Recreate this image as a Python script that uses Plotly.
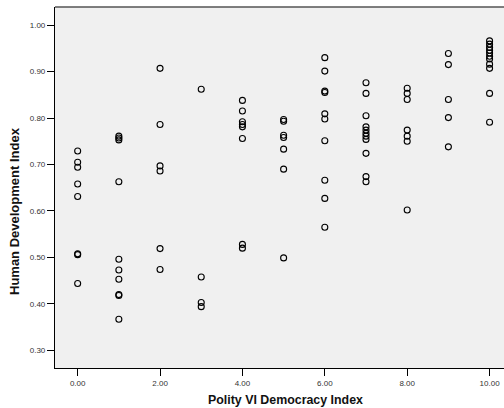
import plotly.graph_objects as go

polity_levels = [0, 1, 2, 3, 4, 5, 6, 7, 8, 9, 10]
hdi_by_level = [
    [0.729, 0.705, 0.694, 0.658, 0.631, 0.508, 0.506, 0.444],
    [0.761, 0.757, 0.753, 0.663, 0.496, 0.473, 0.453, 0.420, 0.418, 0.367],
    [0.907, 0.786, 0.697, 0.686, 0.519, 0.474],
    [0.862, 0.458, 0.403, 0.394],
    [0.838, 0.815, 0.792, 0.786, 0.781, 0.756, 0.528, 0.520],
    [0.797, 0.793, 0.763, 0.758, 0.733, 0.690, 0.499],
    [0.930, 0.901, 0.858, 0.855, 0.809, 0.798, 0.751, 0.666, 0.627, 0.565],
    [0.876, 0.853, 0.805, 0.781, 0.774, 0.767, 0.761, 0.754, 0.724, 0.674, 0.663],
    [0.864, 0.853, 0.840, 0.774, 0.761, 0.750, 0.602],
    [0.939, 0.915, 0.840, 0.801, 0.738],
    [0.966, 0.959, 0.952, 0.946, 0.940, 0.933, 0.927, 0.916, 0.907, 0.853, 0.791],
]
x_ticks = [0, 2, 4, 6, 8, 10]
y_ticks = [0.30, 0.40, 0.50, 0.60, 0.70, 0.80, 0.90, 1.00]

xs, ys = [], []
for lvl, vals in zip(polity_levels, hdi_by_level):
    for v in vals:
        xs.append(lvl)
        ys.append(v)

fig = go.Figure()
fig.add_trace(go.Scatter(
    x=xs, y=ys, mode="markers",
    marker=dict(symbol="circle-open", size=6, color="black", line=dict(width=1.1, color="black")),
    showlegend=False, hoverinfo="skip",
))

tickfont = dict(family="Liberation Sans, Arial, sans-serif", size=8, color="#333333")
fig.update_layout(
    width=504, height=408,
    margin=dict(l=55, r=0, t=7, b=40),
    paper_bgcolor="white",
    plot_bgcolor="#F0F0F0",
    xaxis=dict(
        range=[-0.55, 10.35], tickvals=x_ticks, ticktext=[f"{v:.2f}" for v in x_ticks],
        showgrid=False, zeroline=False, showline=True, linecolor="black", linewidth=1.2,
        ticks="outside", ticklen=7, tickcolor="black", tickwidth=1,
        tickfont=tickfont,
    ),
    yaxis=dict(
        range=[0.262, 1.039], tickvals=y_ticks, ticktext=[f"{v:.2f}" for v in y_ticks],
        showgrid=False, zeroline=False, showline=True, linecolor="black", linewidth=1.2,
        ticks="outside", ticklen=7, tickcolor="black", tickwidth=1,
        tickfont=tickfont,
    ),
    shapes=[dict(type="line", xref="paper", yref="paper", x0=0, x1=1, y0=1, y1=1,
                 line=dict(color="#555555", width=1.5))],
    annotations=[
        dict(text="<b>Polity VI Democracy Index</b>", xref="paper", yref="paper",
             x=(285 - 55) / 449, y=-32 / 361, xanchor="center", yanchor="middle",
             showarrow=False, font=dict(family="Liberation Sans, Arial, sans-serif", size=12.4, color="#111111")),
        dict(text="<b>Human Development Index</b>", xref="paper", yref="paper",
             x=-40 / 449, y=(368 - 211) / 361, xanchor="center", yanchor="middle", textangle=-90,
             showarrow=False, font=dict(family="Liberation Sans, Arial, sans-serif", size=13, color="#111111")),
    ],
)

fig.write_html("out.html")
